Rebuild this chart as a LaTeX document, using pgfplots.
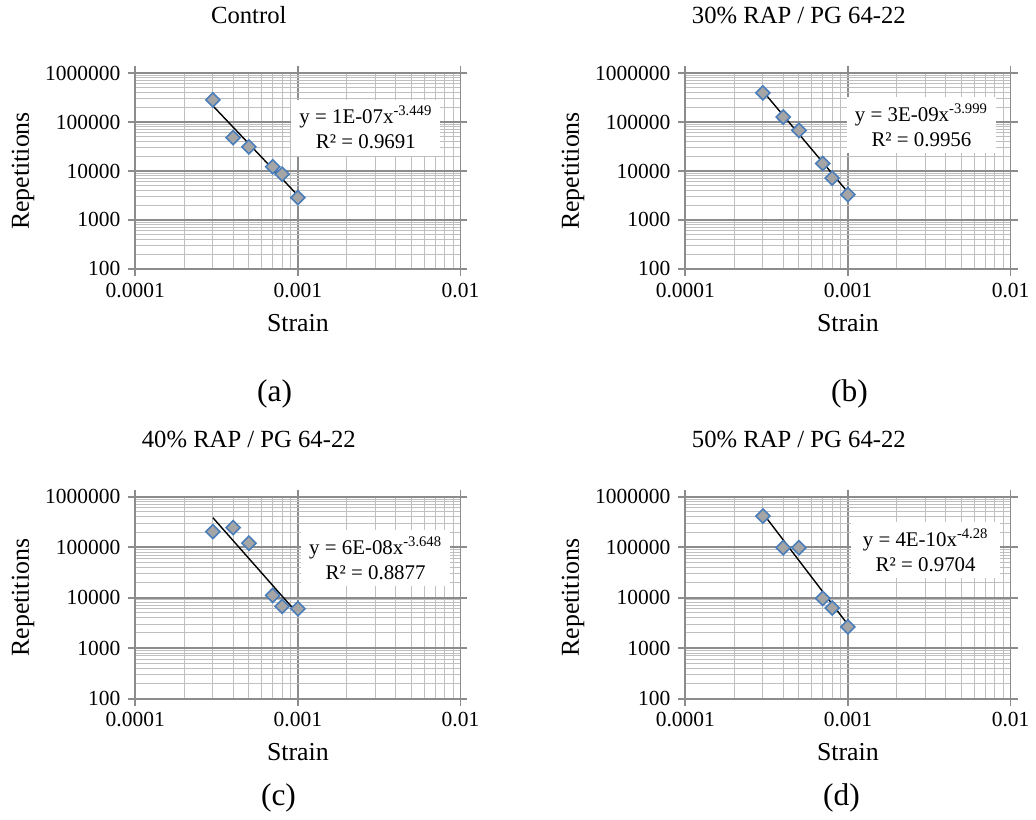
\documentclass[border=0pt]{standalone}
\usepackage{pgfplots}
\pgfplotsset{compat=1.18}
\usepackage{fontspec}
\setmainfont{Liberation Serif}
\definecolor{mkfill}{HTML}{A5A5A5}
\definecolor{mkdraw}{HTML}{4A7EBB}
\definecolor{majg}{HTML}{8C8C8C}
\definecolor{ming}{HTML}{BFBFBF}
\pgfplotsset{every axis/.append style={
    xmode=log, ymode=log,
    scale only axis,
    width=163.5pt,
    xmin=1e-4, xmax=1e-2, ymin=100, ymax=1e6,
    xtick={1e-4,1e-3,1e-2},
    xticklabels={0.0001,0.001,0.01},
    ytick={100,1000,10000,100000,1000000},
    yticklabels={100,1000,10000,100000,1000000},
    grid=both,
    major grid style={majg, line width=0.9pt},
    minor grid style={ming, line width=0.5pt},
    axis line style={majg, line width=0.9pt},
    tick align=outside,
    major tick length=3.5pt,
    minor tick length=0pt,
    tick style={majg, line width=0.9pt},
    tick label style={font=\fontsize{10.8}{12}\selectfont},
    xticklabel style={yshift=0pt},
    yticklabel style={xshift=-0.5pt},
    xlabel={Strain},
    ylabel={Repetitions},
    label style={font=\fontsize{13}{15}\selectfont},
    xlabel style={at={(axis description cs:0.5,0)}, anchor=center, yshift=-27pt},
    ylabel style={at={(axis description cs:-0.345,0.5)}, anchor=center},
    title style={at={(axis description cs:0.349,1)}, anchor=center, yshift=23pt, font=\fontsize{12.4}{14}\selectfont},
}}
\begin{document}
\begin{tikzpicture}
\path (0,0) rectangle (518pt,408pt);
% (a)
\begin{axis}[height=98.5pt, at={(68pt,277pt)}, anchor=south west, title={Control}]
\addplot[black, line width=0.7pt, no marks] coordinates {(3e-4,214000) (1e-3,3160)};
\addplot[only marks, mark=square*, mark size=2.5pt, mark options={rotate=45, fill=mkfill, draw=mkdraw, line width=0.8pt}] coordinates {(3e-4,283000) (4e-4,48000) (5e-4,31000) (7e-4,12200) (8e-4,8600) (1e-3,2850)};
\node[fill=white, align=center, minimum width=75pt, minimum height=28pt, inner sep=1pt, font=\fontsize{10.5}{12.5}\selectfont] at (axis description cs:0.709,0.721) {y = 1E-07x\textsuperscript{-3.449}\\R² = 0.9691};
\end{axis}
% (b)
\begin{axis}[height=98.5pt, at={(344.5pt,277pt)}, anchor=south west, title={30\% RAP / PG 64-22}]
\addplot[black, line width=0.7pt, no marks] coordinates {(3e-4,425000) (1e-3,3660)};
\addplot[only marks, mark=square*, mark size=2.5pt, mark options={rotate=45, fill=mkfill, draw=mkdraw, line width=0.8pt}] coordinates {(3e-4,393000) (4e-4,126000) (5e-4,67400) (7e-4,14200) (8e-4,7140) (1e-3,3290)};
\node[fill=white, align=center, minimum width=75pt, minimum height=28pt, inner sep=1pt, font=\fontsize{10.5}{12.5}\selectfont] at (axis description cs:0.726,0.733) {y = 3E-09x\textsuperscript{-3.999}\\R² = 0.9956};
\end{axis}
% (c)
\begin{axis}[height=101.5pt, at={(68pt,61pt)}, anchor=south west, title={40\% RAP / PG 64-22}]
\addplot[black, line width=0.7pt, no marks] coordinates {(3e-4,385000) (1e-3,4750)};
\addplot[only marks, mark=square*, mark size=2.5pt, mark options={rotate=45, fill=mkfill, draw=mkdraw, line width=0.8pt}] coordinates {(3e-4,204000) (4e-4,244000) (5e-4,120000) (7e-4,11100) (8e-4,6750) (1e-3,6050)};
\node[fill=white, align=center, minimum width=75pt, minimum height=28pt, inner sep=1pt, font=\fontsize{10.5}{12.5}\selectfont] at (axis description cs:0.739,0.697) {y = 6E-08x\textsuperscript{-3.648}\\R² = 0.8877};
\end{axis}
% (d)
\begin{axis}[height=101.5pt, at={(344.5pt,61pt)}, anchor=south west, title={50\% RAP / PG 64-22}]
\addplot[black, line width=0.7pt, no marks] coordinates {(3e-4,469000) (1e-3,2920)};
\addplot[only marks, mark=square*, mark size=2.5pt, mark options={rotate=45, fill=mkfill, draw=mkdraw, line width=0.8pt}] coordinates {(3e-4,415000) (4e-4,98000) (5e-4,98000) (7e-4,9700) (8e-4,6250) (1e-3,2640)};
\node[fill=white, align=center, minimum width=75pt, minimum height=28pt, inner sep=1pt, font=\fontsize{10.5}{12.5}\selectfont] at (axis description cs:0.739,0.736) {y = 4E-10x\textsuperscript{-4.28}\\R² = 0.9704};
\end{axis}
\node[font=\fontsize{15.8}{18}\selectfont] at (138pt,214pt) {(a)};
\node[font=\fontsize{15.8}{18}\selectfont] at (427pt,214pt) {(b)};
\node[font=\fontsize{15.8}{18}\selectfont] at (140pt,11pt) {(c)};
\node[font=\fontsize{15.8}{18}\selectfont] at (423pt,11pt) {(d)};
\end{tikzpicture}
\end{document}
